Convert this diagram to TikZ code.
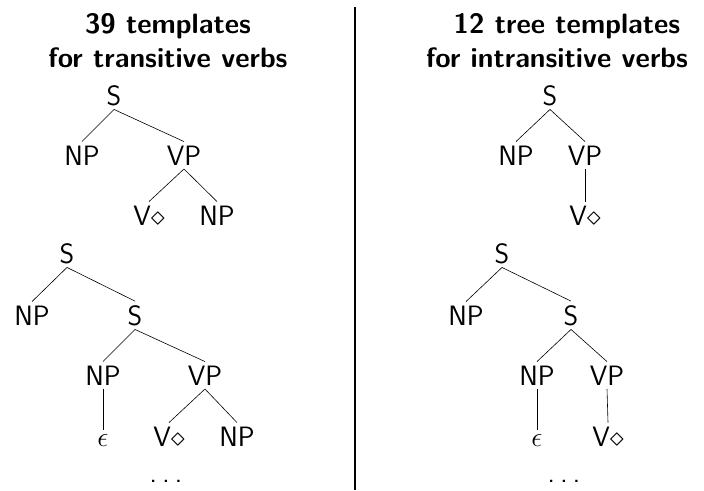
\documentclass[tikz,border=0pt]{standalone}
\newcommand\mydia{\scalebox{1.125}{$\diamond$}}
\newcommand\myeps{\scalebox{1.125}{$\epsilon$}}
\begin{document}
\begin{tikzpicture}[x=1pt,y=-1pt,
  lab/.style={anchor=base,inner xsep=1pt,inner ysep=4pt,outer sep=0pt,font=\fontsize{28}{32}\selectfont\sffamily},
  head/.style={anchor=base,inner sep=0pt,font=\fontsize{28}{32}\selectfont\sffamily\bfseries},
  edge/.style={draw=black,line width=0.6pt}]
\useasboundingbox (0,0) rectangle (704,490);
% headings
\node[head] (h1) at (168,33) {39 templates};
\node[head] (h2) at (168,67) {for transitive verbs};
\node[head] (h3) at (567,33) {12 tree templates};
\node[head] (h4) at (557,67) {for intransitive verbs};
% separator
\coordinate (sepTop) at (355,7);
\coordinate (sepBot) at (355,490);
\draw[line width=2pt] (sepTop) -- (sepBot);
% tree 1
\node[lab] (S1) at (114,105) {S};
\node[lab] (NP1) at (82,165) {NP};
\node[lab] (VP1) at (184,165) {VP};
\node[lab] (V1) at (149,225) {V\mydia};
\node[lab] (NPb1) at (217,225) {NP};
\draw[edge] (S1.south) -- (NP1.north);
\draw[edge] (S1.south) -- (VP1.north);
\draw[edge] (VP1.south) -- (V1.north);
\draw[edge] (VP1.south) -- (NPb1.north);
% tree 2
\node[lab] (S2) at (67,263) {S};
\node[lab] (NP2) at (32,325) {NP};
\node[lab] (S2b) at (135,325) {S};
\node[lab] (NP2b) at (103,385) {NP};
\node[lab] (VP2) at (205,385) {VP};
\node[lab] (eps2) at (103,446) {\myeps};
\node[lab] (V2) at (169,446) {V\mydia};
\node[lab] (NP2c) at (237,446) {NP};
\node[lab] (dots2) at (166,482) {.\kern0.19em.\kern0.19em.};
\draw[edge] (S2.south) -- (NP2.north);
\draw[edge] (S2.south) -- (S2b.north);
\draw[edge] (S2b.south) -- (NP2b.north);
\draw[edge] (S2b.south) -- (VP2.north);
\draw[edge] (NP2b.south) -- (eps2.north);
\draw[edge] (VP2.south) -- (V2.north);
\draw[edge] (VP2.south) -- (NP2c.north);
% tree 3
\node[lab] (S3) at (550,105) {S};
\node[lab] (NP3) at (516,165) {NP};
\node[lab] (VP3) at (585,165) {VP};
\node[lab] (V3) at (585,225) {V\mydia};
\draw[edge] (S3.south) -- (NP3.north);
\draw[edge] (S3.south) -- (VP3.north);
\draw[edge] (VP3.south) -- (V3.north);
% tree 4
\node[lab] (S4) at (502,263) {S};
\node[lab] (NP4) at (466,325) {NP};
\node[lab] (S4b) at (571,325) {S};
\node[lab] (NP4b) at (537,385) {NP};
\node[lab] (VP4) at (607,385) {VP};
\node[lab] (eps4) at (537,446) {\myeps};
\node[lab] (V4) at (608,446) {V\mydia};
\node[lab] (dots4) at (564,482) {.\kern0.19em.\kern0.19em.};
\draw[edge] (S4.south) -- (NP4.north);
\draw[edge] (S4.south) -- (S4b.north);
\draw[edge] (S4b.south) -- (NP4b.north);
\draw[edge] (S4b.south) -- (VP4.north);
\draw[edge] (NP4b.south) -- (eps4.north);
\draw[edge] (VP4.south) -- (V4.north);
\end{tikzpicture}
\end{document}
